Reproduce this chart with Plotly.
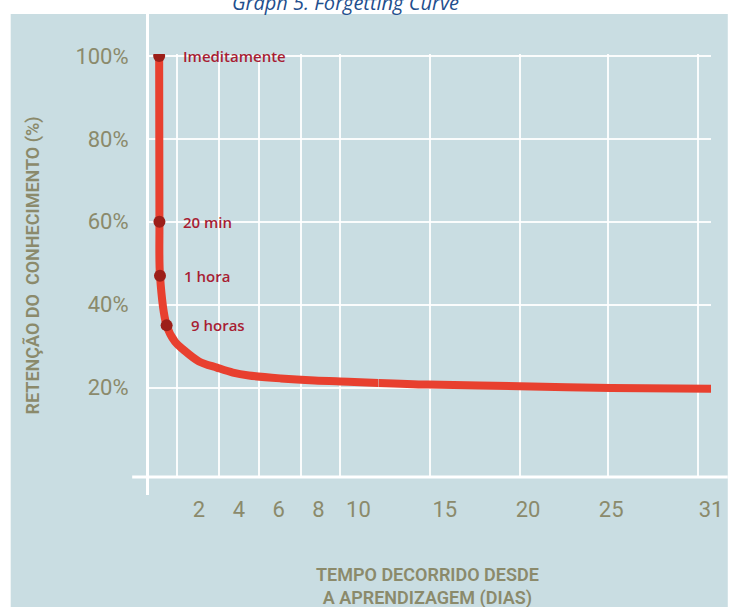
import plotly.graph_objects as go

# --- data -------------------------------------------------------------
# Labelled moments right after learning (time in days, retention in %)
EVENT_LABELS = ["Imeditamente", "20 min", "1 hora", "9 horas"]
EVENT_DAYS = [0, 20 / 1440, 1 / 24, 9 / 24]
EVENT_RET = [100, 60, 47, 35]

# Rest of the forgetting curve
CURVE_DAYS = [0.8, 1.2, 2, 2.9, 3.7, 4.5, 6.1, 7.8, 9.5, 11, 14, 19.5, 25, 31]
CURVE_RET = [31, 29.2, 26.3, 24.8, 23.6, 22.9, 22.2, 21.7, 21.4, 21.1, 20.7, 20.3, 19.9, 19.7]

# Axis ticks
X_TICKS_NEAR = [2, 4, 6, 8, 10]
X_TICKS_FAR = [15, 20, 25, 31]
GRID_NEAR = [0.9, 3.0, 5.0, 7.1, 9.1]
GRID_FAR = [14.1, 19.5, 24.8, 30.2]
Y_TICKS = [20, 40, 60, 80, 100]
Y_TICK_TEXT = ["20%", "40%", "60%", "80%", "100%"]

# --- styling ----------------------------------------------------------
PANEL = "#c9dde2"
GRID = "rgba(255,255,255,0.9)"
INK = "#8b8a6b"
CURVE = "#e8402f"
DOT = "#9c1f19"
LABEL = "#a81d33"
FONT = "Roboto"

W, H = 735, 607
L, R, T, B = 148, 17, 54, 130
SPLIT = 11          # the axis is compressed beyond this day
SPLIT_FRAC = 0.4091

all_days = EVENT_DAYS + CURVE_DAYS
all_ret = EVENT_RET + CURVE_RET
near = [(d, r) for d, r in zip(all_days, all_ret) if d <= SPLIT]
far = [(d, r) for d, r in zip(all_days, all_ret) if d >= SPLIT]

fig = go.Figure()

line_style = dict(color=CURVE, width=8, shape="spline", smoothing=0.9)
fig.add_trace(go.Scatter(x=[p[0] for p in near], y=[p[1] for p in near],
                         mode="lines", line=line_style, xaxis="x", yaxis="y",
                         hoverinfo="skip"))
fig.add_trace(go.Scatter(x=[p[0] for p in far], y=[p[1] for p in far],
                         mode="lines", line=line_style, xaxis="x2", yaxis="y",
                         hoverinfo="skip"))
fig.add_trace(go.Scatter(x=EVENT_DAYS, y=EVENT_RET, mode="markers",
                         marker=dict(color=DOT, size=12), xaxis="x", yaxis="y",
                         hoverinfo="skip"))

for lab, d, r in zip(EVENT_LABELS, EVENT_DAYS, EVENT_RET):
    fig.add_annotation(x=d, y=r, xref="x", yref="y", text=lab, showarrow=False,
                       xanchor="left", yanchor="middle", xshift=22,
                       font=dict(family="Open Sans", size=15, color=LABEL,
                                 weight=600))

tick_font = dict(family=FONT, size=22, color=INK)
common_x = dict(showgrid=False, zeroline=False, showline=False,
                ticks="outside", ticklen=13, tickcolor="rgba(0,0,0,0)",
                tickfont=tick_font, fixedrange=True)

fig.update_layout(
    width=W, height=H,
    margin=dict(l=L, r=R, t=T, b=B),
    paper_bgcolor="white",
    plot_bgcolor="rgba(0,0,0,0)",
    showlegend=False,
    xaxis=dict(domain=[0, SPLIT_FRAC], range=[-0.56, SPLIT], anchor="y",
               tickmode="array", tickvals=X_TICKS_NEAR,
               ticktext=[str(v) for v in X_TICKS_NEAR],
               minor=dict(tickmode="array", tickvals=GRID_NEAR, showgrid=True,
                          gridcolor=GRID, gridwidth=2, ticks=""),
               **common_x),
    xaxis2=dict(domain=[SPLIT_FRAC, 1], range=[SPLIT, 31], anchor="y",
                tickmode="array", tickvals=X_TICKS_FAR,
                ticktext=[str(v) for v in X_TICKS_FAR],
                minor=dict(tickmode="array", tickvals=GRID_FAR, showgrid=True,
                           gridcolor=GRID, gridwidth=2, ticks=""),
                **common_x),
    yaxis=dict(range=[-1.6, 100.5], anchor="x", tickmode="array",
               tickvals=Y_TICKS, ticktext=Y_TICK_TEXT,
               showgrid=True, gridcolor=GRID, gridwidth=2,
               zeroline=False, showline=False,
               ticks="outside", ticklen=14, tickcolor="rgba(0,0,0,0)",
               tickfont=tick_font, fixedrange=True),
)

pw, ph = W - L - R, H - T - B


def px_x(p):
    return (p - L) / pw


def px_y(p):
    return (H - B - p) / ph


# panel background and the two white axis strokes
fig.add_shape(type="rect", xref="paper", yref="paper", layer="below",
              x0=px_x(9), x1=px_x(W), y0=px_y(H), y1=px_y(14),
              fillcolor=PANEL, line=dict(width=0))
fig.add_shape(type="line", xref="paper", yref="paper", layer="below",
              x0=px_x(147.5), x1=px_x(147.5), y0=px_y(495), y1=px_y(14),
              line=dict(color="white", width=3))
fig.add_shape(type="line", xref="paper", yref="paper", layer="below",
              x0=px_x(132), x1=px_x(W), y0=px_y(477), y1=px_y(477),
              line=dict(color="white", width=3))

title_font = dict(family=FONT, size=18, color=INK, weight=600)
fig.add_annotation(xref="paper", yref="paper", x=px_x(431), y=px_y(586),
                   text="TEMPO DECORRIDO DESDE<br>A APRENDIZAGEM (DIAS)",
                   showarrow=False, xanchor="center", yanchor="middle",
                   font=title_font)
fig.add_annotation(xref="paper", yref="paper", x=px_x(32), y=px_y(265),
                   text="RETENÇÃO DO \u00a0CONHECIMENTO (%)", textangle=-90,
                   showarrow=False, xanchor="center", yanchor="middle",
                   font=title_font)
fig.add_annotation(xref="paper", yref="paper", x=px_x(348), y=px_y(2),
                   text="<i>Graph 5. Forgetting Curve</i>", showarrow=False,
                   xanchor="center", yanchor="middle",
                   font=dict(family="Open Sans", size=20, color="#1f4f8e"))

fig.write_html("out.html")
